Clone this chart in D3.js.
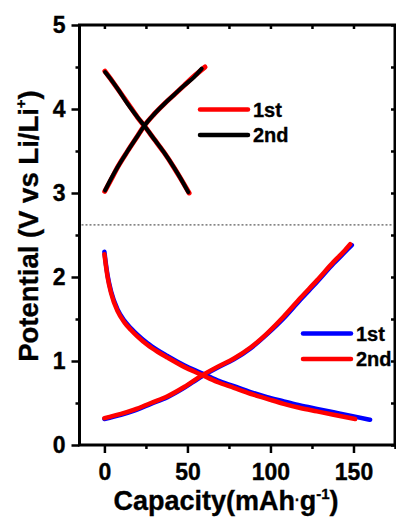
<!DOCTYPE html>
<meta charset="utf-8">
<script src="https://d3js.org/d3.v7.min.js"></script>
<style>
  body { margin: 0; background: #fff; }
  svg text { font-family: Arial, "Liberation Sans", sans-serif; font-weight: bold; fill: #000; stroke: #000; stroke-width: 0.35px; }
  .axis path { display: none; }
  .axis line { stroke: #000; stroke-width: 2.5px; }
  .axis text { font-size: 23px; }
  .curve { fill: none; stroke-linecap: round; stroke-linejoin: round; }
</style>
<body>
<div id="chart"></div>
<script>

// lower panel: discharge / charge, 1st (blue) and 2nd (red)
var lowDis1 = [[0,2.30],[1,2.14],[2,2.01],[4,1.83],[8,1.61],[12,1.48],[16,1.39],[20,1.31],[26,1.21],[32,1.13],[38,1.06],[48,0.95],[58,0.86],[68,0.77],[78,0.70],[88,0.63],[98,0.57],[108,0.52],[118,0.47],[128,0.43],[138,0.39],[148,0.35],[160,0.30]];
var lowDis2 = [[0,2.27],[1,2.12],[2,1.99],[4,1.81],[8,1.59],[12,1.46],[16,1.37],[20,1.29],[26,1.19],[32,1.11],[38,1.04],[48,0.93],[58,0.84],[68,0.75],[78,0.68],[88,0.61],[98,0.55],[108,0.49],[118,0.44],[128,0.40],[138,0.36],[151,0.31]];
var lowChg1 = [[0,0.31],[10,0.36],[18,0.41],[28,0.49],[38,0.57],[48,0.68],[58,0.81],[68,0.92],[78,1.02],[88,1.15],[98,1.32],[108,1.51],[118,1.73],[128,1.94],[138,2.16],[144,2.28],[149,2.38]];
var lowChg2 = [[0,0.32],[10,0.37],[18,0.42],[28,0.50],[38,0.58],[48,0.69],[58,0.82],[68,0.93],[78,1.03],[88,1.16],[98,1.33],[108,1.53],[118,1.75],[128,1.96],[138,2.18],[144,2.30],[148,2.39]];

// upper panel: 1st (red) and 2nd (black)
var upDis1 = [[0.3,4.45],[4,4.35],[8,4.24],[14,4.07],[20,3.90],[24,3.80],[30,3.64],[36,3.48],[42,3.30],[46,3.17],[51,3.00]];
var upDis2 = [[0.4,4.44],[4,4.35],[8,4.24],[14,4.06],[20,3.90],[24,3.80],[30,3.64],[36,3.48],[42,3.30],[46,3.17],[50.5,3.01]];
var upChg1 = [[0.2,3.02],[4,3.16],[8,3.31],[14,3.50],[20,3.68],[24,3.80],[30,3.94],[36,4.06],[42,4.17],[48,4.28],[54,4.39],[60.6,4.50]];
var upChg2 = [[0.4,3.03],[4,3.17],[8,3.31],[14,3.50],[20,3.68],[24,3.80],[30,3.94],[36,4.06],[42,4.17],[48,4.28],[54,4.38],[58.6,4.48]];

var legendLabels = ["1st", "2nd"];
var xMajor = [0, 50, 100, 150], xMinor = [25, 75, 125, 175];
var yMajor = [0, 1, 2, 3, 4, 5], yMinor = [0.5, 1.5, 2.5, 3.5, 4.5];
var dividerLevel = 2.62;

var W = 396, H = 517;
var pLeft = 79.5, pRight = 395, pTop = 25, pBottom = 445;

var svg = d3.select("#chart").append("svg")
  .attr("width", W)
  .attr("height", H);

var x = d3.scaleLinear().domain([-15, 175]).range([pLeft, pRight]);
var y = d3.scaleLinear().domain([0, 5]).range([pBottom, pTop]);

var line = d3.line()
  .x(function(d) { return x(d[0]); })
  .y(function(d) { return y(d[1]); })
  .curve(d3.curveMonotoneX);

// axes
svg.append("g").attr("class", "axis").attr("transform", "translate(0," + pBottom + ")")
  .call(d3.axisBottom(x).tickValues(xMajor).tickSize(8).tickPadding(11).tickFormat(d3.format("d")));
svg.append("g").attr("class", "axis").attr("transform", "translate(0," + pBottom + ")")
  .call(d3.axisBottom(x).tickValues(xMinor).tickSize(4).tickFormat(""));
svg.append("g").attr("class", "axis").attr("transform", "translate(" + pLeft + ",0)")
  .call(d3.axisLeft(y).tickValues(yMajor).tickSize(8).tickPadding(6).tickFormat(d3.format("d")));
svg.append("g").attr("class", "axis").attr("transform", "translate(" + pLeft + ",0)")
  .call(d3.axisLeft(y).tickValues(yMinor).tickSize(4).tickFormat(""));
svg.append("g").attr("class", "axis").attr("transform", "translate(0," + pTop + ")")
  .call(d3.axisTop(x).tickValues(xMajor.concat(xMinor)).tickSize(-4).tickFormat(""));
svg.append("g").attr("class", "axis").attr("transform", "translate(" + pRight + ",0)")
  .call(d3.axisRight(y).tickValues(yMajor.concat(yMinor)).tickSize(-4).tickFormat(""));

svg.append("rect")
  .attr("x", pLeft).attr("y", pTop)
  .attr("width", pRight - pLeft).attr("height", pBottom - pTop)
  .attr("fill", "none").attr("stroke", "#000").attr("stroke-width", 3);

// dotted divider
svg.append("line")
  .attr("x1", pLeft + 2).attr("x2", pRight - 2)
  .attr("y1", y(dividerLevel)).attr("y2", y(dividerLevel))
  .attr("stroke", "#333").attr("stroke-width", 1).attr("stroke-dasharray", "2,2");

// curves
var curves = [
  {d: upDis1, c: "#ff0000", w: 5}, {d: upChg1, c: "#ff0000", w: 5},
  {d: upDis2, c: "#000", w: 4}, {d: upChg2, c: "#000", w: 4},
  {d: lowDis1, c: "#0000ff", w: 4.5}, {d: lowChg1, c: "#0000ff", w: 4.5},
  {d: lowDis2, c: "#ff0000", w: 4.5}, {d: lowChg2, c: "#ff0000", w: 4.5}
];
svg.selectAll(".curve").data(curves).enter().append("path")
  .attr("class", "curve")
  .attr("d", function(d) { return line(d.d); })
  .attr("stroke", function(d) { return d.c; })
  .attr("stroke-width", function(d) { return d.w; });

// legends
function legend(x0, y0, colors) {
  var g = svg.append("g");
  legendLabels.forEach(function(lab, i) {
    var yy = y0 + i * 25.5;
    g.append("line").attr("x1", x0).attr("x2", x0 + 48)
      .attr("y1", yy).attr("y2", yy)
      .attr("stroke", colors[i]).attr("stroke-width", 4.5).attr("stroke-linecap", "round");
    g.append("text").attr("x", x0 + 53).attr("y", yy + 7)
      .style("font-size", "20px").text(lab);
  });
}
legend(200, 109.5, ["#ff0000", "#000"]);
legend(303, 333.5, ["#0000ff", "#ff0000"]);

// axis titles
var xt = svg.append("text").attr("x", 226).attr("y", 510)
  .attr("text-anchor", "middle").style("font-size", "27px");
xt.append("tspan").text("Capacity(mAh");
xt.append("tspan").style("font-size", "14px").attr("dy", -5).text("·");
xt.append("tspan").attr("dy", 5).text("g");
xt.append("tspan").style("font-size", "15px").attr("dy", -11).text("-1");
xt.append("tspan").attr("dy", 11).text(")");

var yt = svg.append("text")
  .attr("transform", "translate(38,226) rotate(-90)")
  .attr("text-anchor", "middle").style("font-size", "27.5px");
yt.append("tspan").text("Potential (V vs Li/Li");
yt.append("tspan").style("font-size", "15px").attr("dy", -12).text("+");
yt.append("tspan").attr("dy", 12).text(")");

</script>
</body>
